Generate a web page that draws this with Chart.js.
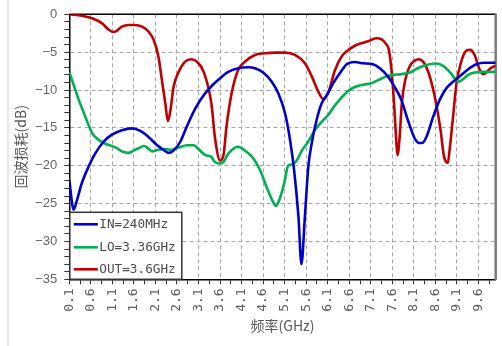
<!DOCTYPE html>
<html>
<head>
<meta charset="utf-8">
<script src="https://cdn.jsdelivr.net/npm/chart.js@4/dist/chart.umd.min.js"></script>
<style>
  html, body { margin: 0; padding: 0; background: #fff; }
  canvas { display: block; }
</style>
</head>
<body>
<canvas id="c" width="502" height="346"></canvas>
<script>
// Return loss of the three mixer ports versus frequency (GHz, dB)
const inFreq = [0.1,0.2,0.28,0.39,0.55,0.7,0.9,1.09,1.32,1.55,1.75,1.94,2.14,2.29,2.41,2.52,2.68,2.83,3.03,3.22,3.4,3.6,3.79,4.02,4.26,4.41,4.6,4.8,4.95,5.11,5.22,5.32,5.42,5.49,5.57,5.65,5.73,5.84,5.96,6.08,6.23,6.38,6.54,6.73,6.92,7.15,7.31,7.5,7.65,7.81,7.96,8.12,8.2,8.29,8.39,8.55,8.7,8.85,9.01,9.16,9.36,9.55,9.74,10.0];
const inLoss = [-21.9,-25.8,-24.5,-22.3,-20.1,-18.4,-16.8,-15.9,-15.3,-15.06,-15.4,-16.2,-17.3,-17.9,-18.3,-18.0,-16.8,-14.8,-12.4,-10.7,-9.5,-8.45,-7.6,-7.13,-7.0,-7.13,-7.7,-8.9,-10.4,-13.1,-16.4,-20.6,-26.7,-33.0,-26.7,-20.1,-17.0,-14.0,-11.76,-10.65,-9.1,-7.8,-6.6,-6.3,-6.47,-6.6,-7.13,-8.23,-9.55,-11.3,-13.96,-16.4,-16.95,-17.0,-16.2,-13.5,-11.3,-9.8,-8.9,-8.23,-7.26,-6.6,-6.4,-6.4];

const loFreq = [0.1,0.2,0.32,0.47,0.63,0.74,0.9,1.09,1.21,1.32,1.48,1.59,1.71,1.83,1.93,2.02,2.17,2.33,2.48,2.64,2.83,2.99,3.1,3.26,3.39,3.48,3.6,3.68,3.79,3.95,4.02,4.18,4.37,4.53,4.68,4.8,4.9,4.99,5.09,5.18,5.28,5.38,5.49,5.65,5.8,5.96,6.11,6.27,6.42,6.58,6.73,6.92,7.11,7.27,7.42,7.62,7.81,8.0,8.2,8.39,8.6,8.78,8.93,9.05,9.13,9.22,9.36,9.51,9.71,10.0];
const loLoss = [-7.6,-9.3,-11.3,-13.5,-15.7,-16.4,-17.0,-17.4,-17.7,-18.1,-18.3,-18.0,-17.7,-17.4,-17.7,-18.1,-17.9,-17.8,-17.9,-17.6,-17.3,-17.3,-17.8,-18.6,-18.8,-19.5,-19.7,-19.5,-18.4,-17.6,-17.5,-18.0,-19.0,-20.6,-22.8,-24.4,-25.3,-24.3,-22.3,-20.0,-19.8,-19.3,-18.1,-16.8,-15.3,-14.2,-13.3,-12.0,-11.0,-10.1,-9.6,-9.3,-9.1,-8.7,-8.3,-8.0,-7.9,-7.7,-7.1,-6.7,-6.5,-6.8,-7.6,-8.45,-8.9,-8.67,-8.0,-7.7,-7.6,-7.6];

const outFreq = [0.1,0.39,0.63,0.86,1.01,1.11,1.18,1.32,1.48,1.62,1.79,1.94,2.06,2.17,2.25,2.33,2.39,2.45,2.52,2.64,2.79,2.93,3.06,3.22,3.4,3.48,3.6,3.68,3.75,3.87,4.02,4.18,4.41,4.64,4.88,5.11,5.34,5.57,5.73,5.88,6.0,6.11,6.27,6.42,6.58,6.73,6.88,7.07,7.23,7.35,7.44,7.52,7.58,7.64,7.69,7.72,7.77,7.82,7.9,8.0,8.12,8.21,8.34,8.47,8.6,8.72,8.8,8.89,8.93,9.01,9.09,9.2,9.32,9.41,9.51,9.63,9.71,9.78,9.88,10.0];
const outLoss = [0,-0.18,-0.53,-1.2,-2.0,-2.33,-2.25,-1.63,-1.41,-1.41,-1.63,-2.29,-3.4,-5.6,-8.7,-11.8,-14.1,-12.6,-9.6,-7.6,-6.25,-5.94,-6.25,-7.6,-11.8,-16.2,-19.3,-18.6,-14.8,-10.4,-7.35,-6.25,-5.37,-5.15,-5.06,-5.06,-5.37,-6.47,-8.2,-10.2,-11.2,-10.4,-7.35,-5.6,-4.7,-4.15,-3.83,-3.48,-3.17,-3.3,-3.83,-4.7,-7.35,-11.76,-16.6,-18.6,-16.2,-11.76,-8.67,-6.9,-6.12,-5.94,-6.47,-8.23,-11.3,-15.3,-18.8,-19.6,-17.9,-13.5,-9.1,-6.25,-4.8,-4.7,-5.37,-7.35,-7.9,-7.7,-7.13,-6.8];

const seriesNames = ['IN=240MHz', 'LO=3.36GHz', 'OUT=3.6GHz'];
const seriesColors = ['#0000cd', '#00b050', '#c00000'];

// Frequency ticks: labelled every 0.5 GHz from 0.1, minor marks every 0.25 GHz
const freqTickFirst = 0.1, freqTickStep = 0.25, freqTickCount = 40;
const freqMin = 0.1, freqMax = 10;
const lossMin = -35, lossMax = 0;

const pts = (xs, ys) => xs.map((x, i) => ({ x: x, y: ys[i] }));
const monoFont = "'DejaVu Sans Mono', 'Liberation Mono', monospace";
const cjkFont = "'Noto Sans CJK SC', 'Noto Sans', sans-serif";

// Page edge line at the left and the plot frame (top + right edges)
const framePlugin = {
  id: 'frame',
  beforeDraw(chart) {
    const ctx = chart.ctx;
    ctx.save();
    ctx.fillStyle = '#d4d4d4';
    ctx.fillRect(7.5, 0, 1, chart.height);
    ctx.restore();
  },
  beforeDatasetsDraw(chart) {
    const { ctx, chartArea: a } = chart;
    ctx.save();
    ctx.strokeStyle = '#000';
    ctx.lineWidth = 1.5;
    ctx.beginPath();
    ctx.moveTo(a.left, a.top);
    ctx.lineTo(a.right, a.top);
    ctx.stroke();
    ctx.strokeStyle = '#7a7a7a';
    ctx.lineWidth = 2.5;
    ctx.beginPath();
    ctx.moveTo(a.right, a.top - 0.75);
    ctx.lineTo(a.right, a.bottom + 0.75);
    ctx.stroke();
    ctx.restore();
  }
};

// Boxed legend in the lower-left corner of the plot
const boxLegendPlugin = {
  id: 'boxLegend',
  afterDatasetsDraw(chart) {
    const { ctx, chartArea: a } = chart;
    const w = 112, h = 67;
    const x0 = a.left + 0.5, y0 = a.bottom - h;
    ctx.save();
    ctx.fillStyle = '#fff';
    ctx.fillRect(x0, y0, w, h);
    ctx.strokeStyle = '#333';
    ctx.lineWidth = 1.5;
    ctx.strokeRect(x0, y0, w, h);
    const rows = [12, 35, 57];
    ctx.font = '12.7px ' + monoFont;
    ctx.textBaseline = 'middle';
    ctx.textAlign = 'left';
    chart.data.datasets.forEach((ds, i) => {
      const y = y0 + rows[i];
      ctx.strokeStyle = ds.borderColor;
      ctx.lineWidth = 2.6;
      ctx.beginPath();
      ctx.moveTo(x0 + 4, y);
      ctx.lineTo(x0 + 28, y);
      ctx.stroke();
      ctx.fillStyle = '#4d4d4d';
      ctx.fillText(ds.label, x0 + 29.5, y + 0.5);
    });
    ctx.restore();
  }
};

const datasets = [
  pts(inFreq, inLoss),
  pts(loFreq, loLoss),
  pts(outFreq, outLoss)
].map((data, i) => ({
  label: seriesNames[i],
  data: data,
  borderColor: seriesColors[i],
  backgroundColor: seriesColors[i],
  borderWidth: 2.6,
  pointRadius: 0,
  fill: false,
  cubicInterpolationMode: 'monotone'
}));

new Chart(document.getElementById('c'), {
  type: 'line',
  data: { datasets: datasets },
  plugins: [framePlugin, boxLegendPlugin],
  options: {
    responsive: false,
    animation: false,
    devicePixelRatio: 1,
    layout: { padding: { left: 0, right: 6.3, top: 14.3, bottom: 0 } },
    plugins: {
      legend: { display: false },
      tooltip: { enabled: false }
    },
    scales: {
      x: {
        type: 'linear',
        min: freqMin,
        max: freqMax,
        afterBuildTicks(scale) {
          const t = [];
          for (let k = 0; k < freqTickCount; k++) {
            t.push({ value: Math.round((freqTickFirst + freqTickStep * k) * 100) / 100, major: k % 2 === 0 });
          }
          scale.ticks = t;
        },
        afterFit(scale) {
          scale.height = 66.7;
          scale.paddingLeft = 0;
          scale.paddingRight = 0;
        },
        ticks: {
          autoSkip: false,
          minRotation: 90,
          maxRotation: 90,
          padding: 4,
          color: '#5e5e5e',
          font: { family: monoFont, size: 13 },
          callback: (v, i) => (i % 2 === 0 ? Number(v).toFixed(1) : '')
        },
        grid: {
          color: c => (c.index % 2 === 0 ? '#a8a8a8' : 'rgba(0,0,0,0)'),
          tickColor: '#333',
          tickLength: 5,
          lineWidth: 1
        },
        border: { color: '#000', width: 1.5, dash: [4, 3] },
        title: {
          display: true,
          text: '频率(GHz)',
          color: '#595959',
          font: { family: cjkFont, size: 14 },
          padding: { top: 0, bottom: 11.6 }
        }
      },
      y: {
        type: 'linear',
        min: lossMin,
        max: lossMax,
        afterBuildTicks(scale) {
          const t = [];
          for (let v = lossMin; v <= lossMax; v++) t.push({ value: v });
          scale.ticks = t;
        },
        afterFit(scale) {
          scale.width = 69.3;
          scale.paddingTop = 0;
          scale.paddingBottom = 0;
        },
        ticks: {
          autoSkip: false,
          padding: 7,
          color: '#666',
          font: { family: "'Liberation Sans', Arial, sans-serif", size: 13 },
          callback: v => (v % 5 === 0 ? (v < 0 ? '\u2212' + (-v) : '0') : '')
        },
        grid: {
          color: c => (c.tick && c.tick.value % 5 === 0 ? '#a8a8a8' : 'rgba(0,0,0,0)'),
          tickColor: '#333',
          tickLength: 5,
          lineWidth: 1
        },
        border: { color: '#000', width: 1.5, dash: [4, 3] },
        title: {
          display: true,
          text: '回波损耗(dB)',
          color: '#595959',
          font: { family: cjkFont, size: 14 },
          padding: { top: 12.6, bottom: 0 }
        }
      }
    }
  }
});
</script>
</body>
</html>
